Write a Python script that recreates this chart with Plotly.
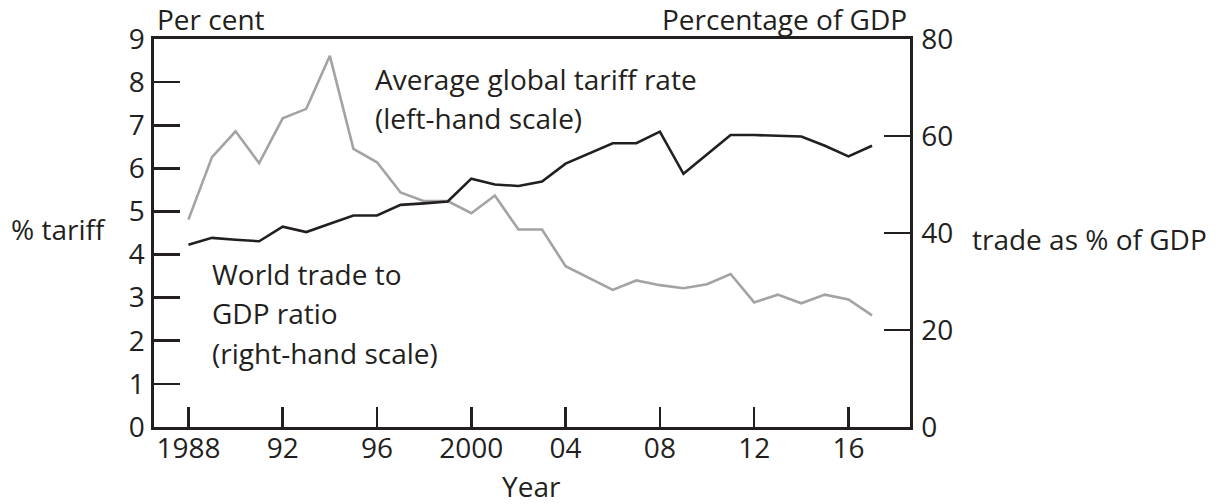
import plotly.graph_objects as go

years = list(range(1988, 2018))
tariff_rate = [4.81, 6.26, 6.86, 6.12, 7.16, 7.38, 8.61, 6.45, 6.14, 5.44,
               5.24, 5.24, 4.96, 5.37, 4.58, 4.58, 3.73, 3.46, 3.18, 3.40,
               3.29, 3.22, 3.31, 3.55, 2.89, 3.07, 2.87, 3.07, 2.96, 2.59]
trade_gdp = [37.6, 39.0, 38.6, 38.3, 41.3, 40.2, 41.9, 43.6, 43.6, 45.8,
             46.1, 46.5, 51.2, 50.0, 49.7, 50.6, 54.3, 56.4, 58.5, 58.5,
             60.9, 52.2, 56.2, 60.2, 60.2, 60.1, 59.9, 58.0, 55.8, 58.0]
x_tickvals = [1988, 1992, 1996, 2000, 2004, 2008, 2012, 2016]
x_ticktext = ["1988", "92", "96", "2000", "04", "08", "12", "16"]
left_tickvals = list(range(0, 10))
right_tickvals = [0, 20, 40, 60, 80]

INK = "#231f20"
GREY = "#a3a3a3"
FONT = "Open Sans"
FS = 28

W, H = 1219, 504
PLOT_L, PLOT_R, PLOT_T, PLOT_B = 154, 910, 39, 427
ML, MT = PLOT_L, PLOT_T
MR, MB = W - PLOT_R, H - PLOT_B
PW, PH = PLOT_R - PLOT_L, PLOT_B - PLOT_T


def px(xs):
    return (xs - PLOT_L) / PW


def py(ys):
    return (PLOT_B - ys) / PH


fig = go.Figure()
fig.add_trace(go.Scatter(x=years, y=tariff_rate, mode="lines",
                         line=dict(color=GREY, width=2.6), yaxis="y",
                         showlegend=False, hoverinfo="skip"))
fig.add_trace(go.Scatter(x=years, y=trade_gdp, mode="lines",
                         line=dict(color=INK, width=2.6), yaxis="y2",
                         showlegend=False, hoverinfo="skip"))

axis_common = dict(showgrid=False, zeroline=False, showline=True,
                   linecolor=INK, linewidth=2.6, ticks="inside",
                   tickcolor=INK, tickwidth=2.6,
                   tickfont=dict(family=FONT, size=FS, color=INK))

fig.update_layout(
    width=W, height=H,
    margin=dict(l=ML, r=MR, t=MT, b=MB, pad=0),
    paper_bgcolor="white", plot_bgcolor="white",
    font=dict(family=FONT, size=FS, color=INK),
    xaxis=dict(range=[1986.54, 2018.61], tickvals=x_tickvals,
               ticktext=x_ticktext, ticklen=20, mirror=True,
               ticklabelstandoff=-5, **axis_common),
    yaxis=dict(range=[0, 9], tickvals=left_tickvals, ticklen=26,
               ticklabelstandoff=1, **axis_common),
    yaxis2=dict(range=[0, 80], tickvals=right_tickvals, ticklen=26,
                overlaying="y", side="right", ticklabelstandoff=3,
                **axis_common),
)

anns = [
    ("Per cent", 155, 19, "left"),
    ("Percentage of GDP", 909, 19, "right"),
    ("% tariff", 9, 229, "left"),
    ("trade as % of GDP", 970, 239, "left"),
    ("Year", 531, 486, "center"),
    ("Average global tariff rate", 373, 79, "left"),
    ("(left-hand scale)", 373, 118, "left"),
    ("World trade to", 210, 274, "left"),
    ("GDP ratio", 210, 313, "left"),
    ("(right-hand scale)", 210, 353, "left"),
]
for text, xs, ys, anchor in anns:
    fig.add_annotation(text=text, xref="paper", yref="paper",
                       x=px(xs), y=py(ys), xanchor=anchor, yanchor="middle",
                       showarrow=False,
                       font=dict(family=FONT, size=FS, color=INK))

fig.write_html(
    "out.html",
    config={"displayModeBar": False, "staticPlot": True},
    post_script="document.body.style.margin='0px';"
                "document.body.style.overflow='hidden';",
)
